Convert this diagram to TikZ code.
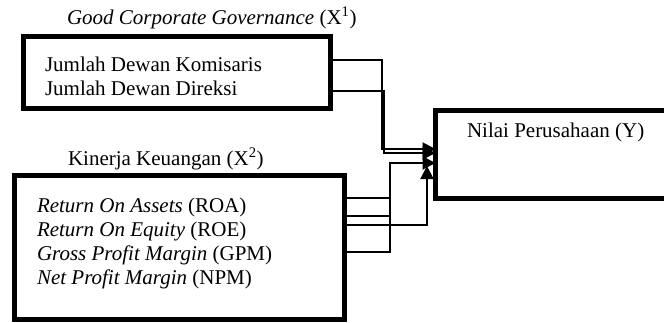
\documentclass[tikz,border=0pt]{standalone}
\usepackage{fontspec}
\setmainfont{Liberation Serif}
\usetikzlibrary{arrows.meta}
\begin{document}
\begin{tikzpicture}[x=1pt,y=-1pt,
  thickbox/.style={draw=black,line width=5pt,minimum width=#1,inner sep=0pt,outer sep=0pt},
  lbl/.style={anchor=base west,inner sep=0pt,outer sep=0pt,font=\fontsize{21}{24}\selectfont},
  conn/.style={draw=black,line width=2pt},
  arr/.style={conn,-{Triangle[length=13pt,width=13pt]}}]
\useasboundingbox (0,0) rectangle (664,322);
\clip (0,0) rectangle (664,322);
% boxes
\node[thickbox=307pt,minimum height=72pt] (gcg) at (177,72.5) {};
\node[thickbox=330pt,minimum height=144pt] (kin) at (179.5,247.5) {};
\node[thickbox=250pt,minimum height=88pt] (nil) at (560.5,154.5) {};
% titles
\node[lbl] (t1) at (67,24) {\textit{Good Corporate Governance} (X\textsuperscript{1})};
\node[lbl] (t2) at (68,165) {Kinerja Keuangan (X\textsuperscript{2})};
% box texts
\node[lbl] (g1) at (45,71) {Jumlah Dewan Komisaris};
\node[lbl] (g2) at (45,95) {Jumlah Dewan Direksi};
\node[lbl] (k1) at (37,212) {\textit{Return On Assets} (ROA)};
\node[lbl] (k2) at (37,236) {\textit{Return On Equity} (ROE)};
\node[lbl] (k3) at (37,260) {\textit{Gross Profit Margin} (GPM)};
\node[lbl] (k4) at (37,284) {\textit{Net Profit Margin} (NPM)};
\node[lbl] (n1) at (467,137) {Nilai Perusahaan (Y)};
% connector anchors
\coordinate (up) at (427,166);
% GCG connectors
\draw[arr] (gcg.east |- 0,60) -- (382,60) -- (382,149) -- (nil.west |- 0,149);
\draw[arr] (gcg.east |- 0,91) -- (383.5,91) -- (383.5,153) -- (nil.west |- 0,153);
% Kinerja connectors
\draw[arr] (kin.east |- 0,198) -- (390,198) -- (390,163) -- (nil.west |- 0,163);
\draw[conn] (kin.east |- 0,216) -- (390,216) -- (390,198);
\draw[conn] (kin.east |- 0,252) -- (390,252) -- (390,216);
\draw[arr] (kin.east |- 0,225) -- (427,225) -- (up);
\end{tikzpicture}
\end{document}
